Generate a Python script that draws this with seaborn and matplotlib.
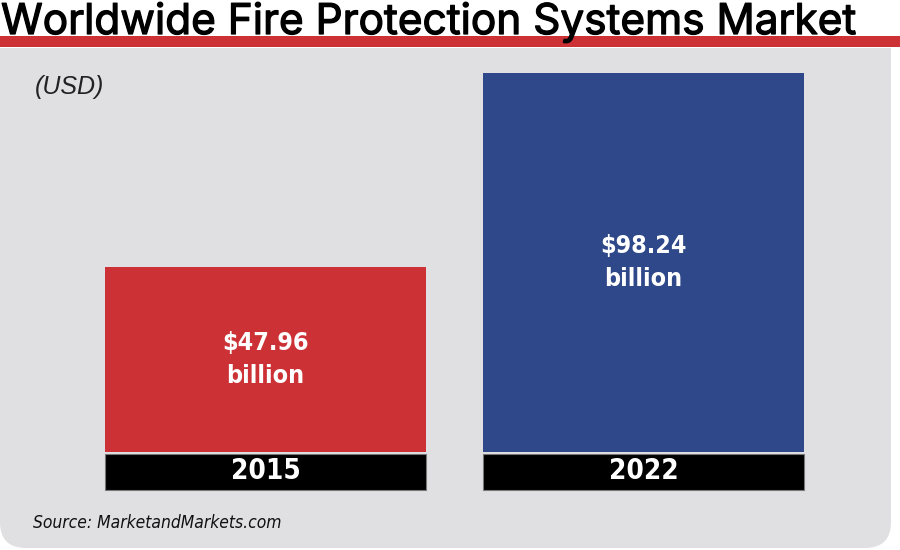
import matplotlib
matplotlib.use("Agg")
import matplotlib.pyplot as plt
import matplotlib.patches as mpatches
import matplotlib.patheffects as pe
import matplotlib.transforms as mtransforms
import seaborn as sns
import pandas as pd

# chart data
years = ["2015", "2022"]
market_usd_bn = [47.96, 98.24]
bar_colors = ["#cc3235", "#2f4889"]
value_labels = ["$47.96\nbillion", "$98.24\nbillion"]

title = "Worldwide Fire Protection Systems Market"
unit_note = "(USD)"
source_note = "Source: MarketandMarkets.com"

sns.set_theme(style="white")
plt.rcParams["font.family"] = ["Liberation Sans", "DejaVu Sans"]
narrow = ["DejaVu Sans"]

df = pd.DataFrame({"year": years, "value": market_usd_bn})

fig = plt.figure(figsize=(9, 5.5), dpi=100, facecolor="white")

# background layer in pixel units
bg = fig.add_axes([0, 0, 1, 1], zorder=0)
bg.set_xlim(0, 900)
bg.set_ylim(550, 0)
bg.axis("off")
bg.add_patch(mpatches.FancyBboxPatch((0, 48), 891, 500,
                                     boxstyle="round,pad=0,rounding_size=26",
                                     fc="#e0dfe1", ec="none"))
bg.add_patch(mpatches.Rectangle((0, 48), 891, 80, fc="#e0dfe1", ec="none"))
bg.add_patch(mpatches.Rectangle((0, 36), 900, 11, fc="#cc3235", ec="none"))
bg.text(1, 34, title, fontsize=30.5, color="black", va="baseline", ha="left",
        family=["Inter", "Liberation Sans"],
        path_effects=[pe.withStroke(linewidth=0.9, foreground="black")])
bg.text(35, 87, unit_note, fontsize=18, style="italic", color="#222222",
        va="center", ha="left")
bg.text(33, 523, source_note, fontsize=12.5, style="italic", color="#111111",
        va="center", ha="left", family=narrow, fontstretch="condensed")

# bars
ax = fig.add_axes([76.5 / 900, 98 / 550, 756 / 900, 393 / 550], zorder=1)
ax.patch.set_alpha(0)
sns.barplot(data=df, x="year", y="value", hue="year", palette=bar_colors,
            saturation=1, width=0.847, legend=False, linewidth=0, ax=ax)
ax.set_xlim(-0.5, 1.5)
ax.set_ylim(0, 102)
ax.axis("off")

trans = mtransforms.blended_transform_factory(ax.transData, ax.transAxes)
for bar, yr, lab in zip(ax.patches, years, value_labels):
    cx = bar.get_x() + bar.get_width() / 2
    ax.text(cx, bar.get_height() / 2, lab, color="white", fontsize=18,
            fontweight="bold", ha="center", va="center", linespacing=1.5,
            family=narrow, fontstretch="condensed")
    ax.add_patch(mpatches.Rectangle((bar.get_x(), -0.097), bar.get_width(), 0.092,
                                    transform=trans, fc="black", ec="#777777",
                                    lw=0.8, clip_on=False))
    ax.text(cx, -0.048, yr, transform=trans, color="white", fontsize=20,
            fontweight="bold", ha="center", va="center", family=narrow,
            fontstretch="condensed")

fig.savefig("out.png", dpi=100, facecolor="white")
